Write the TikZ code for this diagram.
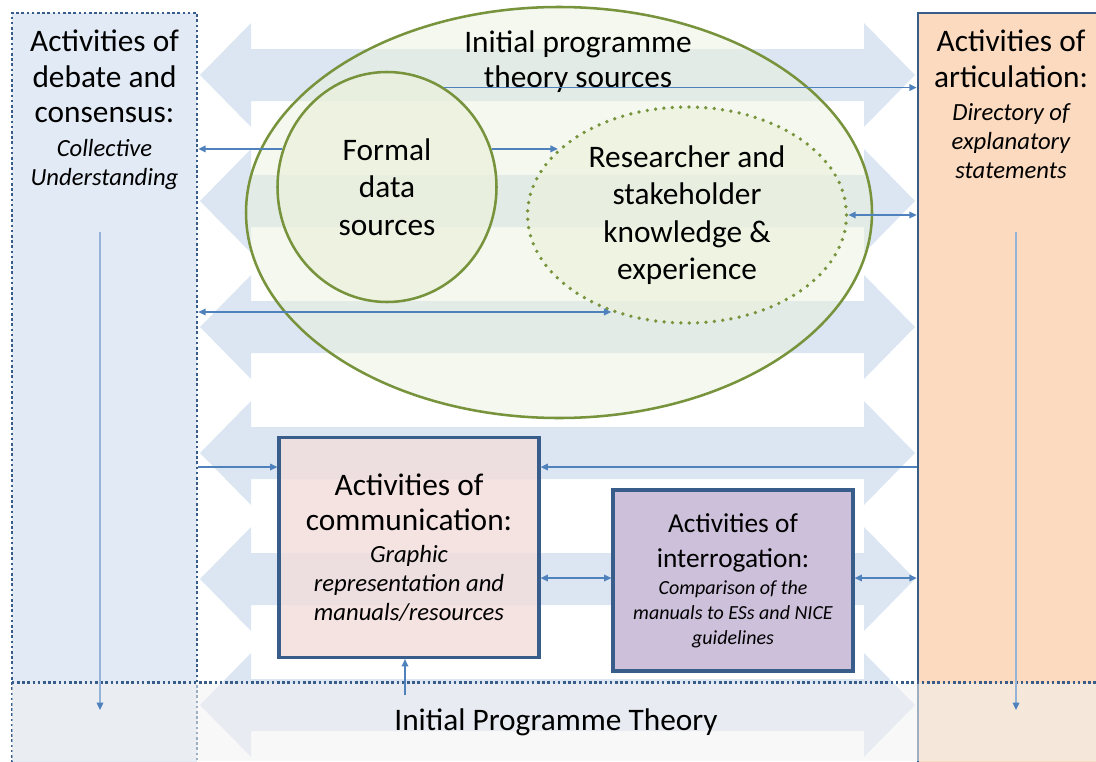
\documentclass[tikz,border=0pt]{standalone}
\usepackage{fontspec}
\setmainfont{Carlito}
\usetikzlibrary{shapes,arrows.meta}

\definecolor{debateblue}{RGB}{226,234,245}
\definecolor{flowblue}{RGB}{220,230,242}
\definecolor{edgeblue}{RGB}{56,93,138}
\definecolor{linkblue}{RGB}{79,129,189}
\definecolor{sourcegreen}{RGB}{235,241,222}
\definecolor{rimgreen}{RGB}{119,147,60}
\definecolor{articpeach}{RGB}{252,218,192}
\definecolor{commpink}{RGB}{242,220,219}
\definecolor{interlilac}{RGB}{204,192,218}
\definecolor{bandgrey}{RGB}{242,242,242}

\newcommand\detailfont{\fontsize{18.5}{21.75}\selectfont\itshape}
\newcommand\detailfontsm{\fontsize{15}{18.75}\selectfont\itshape}

\tikzset{
  coltext/.style={inner sep=0pt, align=center, font=\fontsize{23.5}{26.5}\selectfont},
  debatecol/.style={rectangle, inner sep=0pt, fill=debateblue, draw=edgeblue, line width=2pt, dash pattern=on 2pt off 1.9pt},
  articcol/.style={rectangle, inner sep=0pt, fill=articpeach, draw=edgeblue, line width=2pt},
  bigarrow/.style={fill=flowblue, draw=none},
  sourcesshape/.style={ellipse, inner sep=0pt, fill=sourcegreen, fill opacity=0.5, draw=rimgreen, line width=1.9pt},
  formalshape/.style={ellipse, inner sep=0pt, fill=sourcegreen, fill opacity=0.8, text opacity=1, draw=rimgreen, line width=1.9pt, align=center, font=\fontsize{23.5}{28}\selectfont},
  researchshape/.style={ellipse, inner sep=0pt, fill=sourcegreen, fill opacity=0.75, text opacity=1, draw=rimgreen, line width=2.8pt, line cap=round, dash pattern=on 0pt off 6.3pt, align=center, font=\fontsize{23.5}{28}\selectfont},
  commbox/.style={rectangle, inner sep=0pt, fill=commpink, fill opacity=0.8, text opacity=1, draw=edgeblue, line width=2.4pt, align=center, font=\fontsize{23.5}{26.5}\selectfont},
  interbox/.style={rectangle, inner sep=0pt, fill=interlilac, draw=edgeblue, line width=2.4pt, align=center, font=\fontsize{20.5}{26.25}\selectfont},
  iptband/.style={rectangle, inner sep=0pt, fill=bandgrey, fill opacity=0.55, text opacity=1, font=\fontsize{23.5}{27}\selectfont},
  bandrule/.style={draw=edgeblue, line width=2pt, dash pattern=on 2pt off 1.9pt},
  link/.style={draw=linkblue, line width=1.1pt, >={Triangle[length=5.5pt,width=5pt]}},
  droplink/.style={draw=linkblue!60, line width=0.9pt, >={Triangle[length=5.5pt,width=5pt,color=linkblue]}}
}

\begin{document}
\begin{tikzpicture}[x=0.75pt,y=0.75pt,yscale=-1,xscale=1]
    \useasboundingbox (0,0) rectangle (1096,761);

    %Shape: Rectangle [debate column]
    \node[debatecol, minimum width=138.75pt, minimum height=570pt] (debate) at (104.5,393) {};
    %Shape: Rectangle [articulation column]
    \node[articcol, minimum width=136.5pt, minimum height=570pt] (articulation) at (1009,393) {};

    %Shape: Block arrows, one per row
    \draw[bigarrow, shift={(0,75)}] (200,0) -- (251,-52) -- (251,-26) -- (864,-26) -- (864,-52) -- (915,0) -- (864,52) -- (864,26) -- (251,26) -- (251,52) -- cycle ;
    \draw[bigarrow, shift={(0,201)}] (200,0) -- (251,-52) -- (251,-26) -- (864,-26) -- (864,-52) -- (915,0) -- (864,52) -- (864,26) -- (251,26) -- (251,52) -- cycle ;
    \draw[bigarrow, shift={(0,327)}] (200,0) -- (251,-52) -- (251,-26) -- (864,-26) -- (864,-52) -- (915,0) -- (864,52) -- (864,26) -- (251,26) -- (251,52) -- cycle ;
    \draw[bigarrow, shift={(0,453)}] (200,0) -- (251,-52) -- (251,-26) -- (864,-26) -- (864,-52) -- (915,0) -- (864,52) -- (864,26) -- (251,26) -- (251,52) -- cycle ;
    \draw[bigarrow, shift={(0,579)}] (200,0) -- (251,-52) -- (251,-26) -- (864,-26) -- (864,-52) -- (915,0) -- (864,52) -- (864,26) -- (251,26) -- (251,52) -- cycle ;
    \draw[bigarrow, shift={(0,705)}] (200,0) -- (251,-52) -- (251,-26) -- (864,-26) -- (864,-52) -- (915,0) -- (864,52) -- (864,26) -- (251,26) -- (251,52) -- cycle ;

    %Shape: Ellipse [sources]
    \node[sourcesshape, minimum width=469.5pt, minimum height=308.25pt] (sources) at (559,212.5) {};
    %Shape: Circle [formal]
    \node[formalshape, minimum width=164.25pt, minimum height=172.5pt] (formal) at (387,187) {Formal\\data\\sources};
    %Shape: Ellipse [researcher]
    \node[researchshape, minimum width=239.25pt, minimum height=162pt] (researcher) at (687,215) {Researcher and\\stakeholder\\knowledge \&\\experience};

    %Shape: Rectangle [communication]
    \node[commbox, minimum width=195pt, minimum height=165pt] (comm) at (409,547.5) {Activities of\\communication:\\[-2.5pt]{\detailfont Graphic}\\[-4.75pt]{\detailfont representation and}\\[-4.75pt]{\detailfont manuals/resources}};
    %Shape: Rectangle [interrogation]
    \node[interbox, minimum width=180pt, minimum height=135.75pt] (interrog) at (733,580.5) {Activities of\\interrogation:\\[-6pt]{\detailfontsm Comparison of the}\\[-7.5pt]{\detailfontsm manuals to ESs and NICE}\\[-7.5pt]{\detailfontsm guidelines}};

    % Text Node
    \node[coltext, anchor=north] (sourcestext) at (578,30) {Initial programme\\theory sources};
    % Text Node
    \node[coltext, anchor=north] (debatetext) at (104.5,30) {Activities of\\debate and\\consensus:\\[-1pt]{\detailfont Collective}\\[-4.75pt]{\detailfont Understanding}};
    % Text Node
    \node[coltext, anchor=north] (artictext) at (1011,30) {Activities of\\articulation:\\[-1.75pt]{\detailfont Directory of}\\[-4.75pt]{\detailfont explanatory}\\[-4.75pt]{\detailfont statements}};

    %Shape: Band [initial programme theory]
    \node[iptband, minimum width=816pt, minimum height=58.5pt] (ipt) at (556,722) {Initial Programme Theory};
    \draw[bandrule] (ipt.north west) -- (ipt.north east) ;

    %Straight Lines
    \coordinate (debatetop) at (100,232);
    \coordinate (debatebottom) at (100,710);
    \coordinate (artictop) at (1016,232);
    \coordinate (articbottom) at (1016,710);
    \coordinate (iptfeed) at (405,695);
    \coordinate (rowA) at (0,467);
    \coordinate (rowB) at (0,578);

    \draw[droplink,->] (debatetop) -- (debatebottom) ;
    \draw[droplink,->] (artictop) -- (articbottom) ;

    \draw[link,->] (formal.60) -- (formal.60 -| articulation.west) ;
    \draw[link,->] (formal.160) -- (formal.160 -| debate.east) ;
    \draw[link,->] (formal.20) -- (researcher.153 |- formal.20) ;
    \draw[link,<->] (researcher.east) -- (researcher.east -| articulation.west) ;
    \draw[link,<->] (researcher.232 -| debate.east) -- (researcher.232) ;
    \draw[link,->] (debate.east |- rowA) -- (comm.west |- rowA) ;
    \draw[link,->] (articulation.west |- rowA) -- (comm.east |- rowA) ;
    \draw[link,<->] (comm.east |- rowB) -- (interrog.west |- rowB) ;
    \draw[link,<->] (interrog.east |- rowB) -- (articulation.west |- rowB) ;
    \draw[link,->] (iptfeed) -- (iptfeed |- comm.south) ;

\end{tikzpicture}
\end{document}
